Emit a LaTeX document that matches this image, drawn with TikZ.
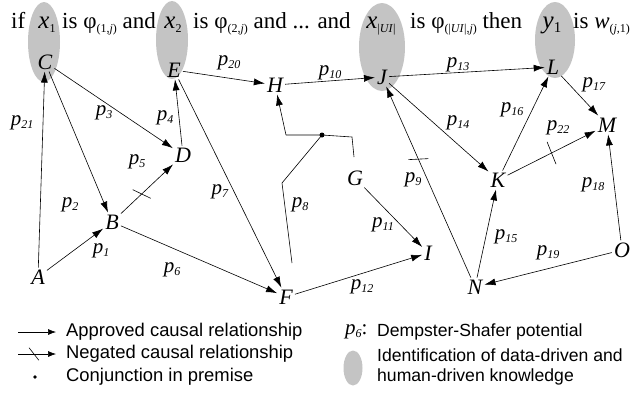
\documentclass[tikz,border=0pt]{standalone}
\usepackage{fontspec}
\setmainfont{Liberation Serif}
\newfontfamily\legfont{Liberation Sans}
\usetikzlibrary{arrows.meta,decorations.markings,calc,shapes.geometric}
\definecolor{knowgray}{RGB}{196,196,196}
\newcommand\sbs[2][12]{\raisebox{-4pt}{\fontsize{#1}{#1}\selectfont #2}}
\newcommand\pp[1]{\textit{p}\raisebox{-3pt}{\fontsize{12}{12}\selectfont\textit{#1}}}
\tikzset{
  ln/.style={line width=0.6pt},
  ar/.style={ln,-{Latex[length=11pt,width=7pt]}},
  sar/.style={ln,-{Latex[length=8pt,width=6pt]}},
  negbar/.style n args={3}{postaction={decorate,decoration={markings,
      mark=at position #1 with {\draw[ln,-] (#2:#3) -- (#2:-#3);}}}},
  lt/.style={font=\fontsize{22}{24}\selectfont\itshape, inner sep=2pt},
  pl/.style={font=\fontsize{21}{22}\selectfont, inner sep=0pt},
  tt/.style={font=\fontsize{23}{26}\selectfont, inner sep=0pt},
  tx/.style={font=\fontsize{25}{26}\selectfont, inner sep=0pt},
  kn/.style={ellipse, fill=knowgray, draw=none, inner sep=0pt},
  lg/.style={font=\legfont\fontsize{18.4}{20}\selectfont, inner sep=0pt, anchor=west},
  lgr/.style={font=\legfont\fontsize{17.6}{20}\selectfont, inner sep=0pt, anchor=west},
}
\begin{document}
\begin{tikzpicture}[x=1pt,y=-1pt]
\useasboundingbox (0,0) rectangle (634,392);
% knowledge ellipses
\node[kn, minimum width=32pt, minimum height=80pt] (eC) at (44,42) {};
\node[kn, minimum width=32pt, minimum height=78pt] (eE) at (172,40) {};
\node[kn, minimum width=46pt, minimum height=88pt] (eJ) at (382,47) {};
\node[kn, minimum width=40pt, minimum height=76pt] (eL) at (555,40) {};
% rule text
\node[tt, anchor=base west] (t1) at (11,28) {if};
\node[tx, anchor=base] (t2) at (47,28) {\textit{x}\sbs{1}};
\node[tt, anchor=base west] (t3) at (62,28) {is φ\sbs{(1,\textit{j})} and};
\node[tx, anchor=base] (t4) at (173,28) {\textit{x}\sbs{2}};
\node[tt, anchor=base west] (t5) at (193,28) {is φ\sbs{(2,\textit{j})} and ... and};
\node[tx, anchor=base] (t6) at (381,28) {\textit{x}\sbs{|\textit{UI}|}};
\node[tt, anchor=base west] (t7) at (410,28) {is φ\sbs{(|\textit{UI}|,\textit{j})} then};
\node[tx, anchor=base] (t8) at (552,28) {\textit{y}\sbs[15]{1}};
\node[tt, anchor=base west] (t9) at (573,28) {is \textit{w}\sbs{(\textit{j},1)}};
% letters
\node[lt] (A) at (38,277) {A};
\node[lt] (B) at (112,222) {B};
\node[lt] (C) at (45,62) {C};
\node[lt] (D) at (183,155) {D};
\node[lt] (E) at (174,70) {E};
\node[lt] (F) at (286,297) {F};
\node[lt] (G) at (355,178) {G};
\node[lt] (H) at (275,85) {H};
\node[lt] (I) at (428,253) {I};
\node[lt] (J) at (382,77) {J};
\node[lt] (K) at (498,180) {K};
\node[lt] (L) at (553,67) {L};
\node[lt] (M) at (607,125) {M};
\node[lt] (N) at (475,287) {N};
\node[lt] (O) at (622,250) {O};
% edges
\draw[ar] (A) -- (B);
\draw[ar] (C) -- (B);
\draw[ar] (C) -- (D);
\draw[ar] (D) -- (E);
\draw[ar, negbar={0.4}{-69}{10pt}] (B) -- (D);
\draw[ar] (B) -- (F);
\draw[ar] (E) -- (F);
\draw[ar, negbar={0.62}{-111}{10pt}] (N) -- (J);
\draw[ar] (H) -- (J);
\draw[ar] (G) -- (I);
\draw[ar] (F) -- (I);
\draw[ar] (J) -- (L);
\draw[ar] (J) -- (K);
\draw[ar] (N) -- (K);
\draw[ar] (K) -- (L);
\draw[ar] (L) -- (M);
\draw[ar] (O) -- (M);
\draw[ar] (O) -- (N);
\draw[ar] (E) -- (H);
\draw[ar] (A) -- (C);
\draw[ar, negbar={0.5}{-95}{12pt}] (K) -- (M);
% conjunction
\coordinate (f8a) at ($(F)+(6,-34)$);
\coordinate (f8b) at (282,183);
\coordinate (conj) at (322,135);
\coordinate (g8b) at (352,137);
\coordinate (g8a) at ($(G)+(-1,-21)$);
\coordinate (h8b) at (286,135);
\draw[ln] (f8a) -- (f8b) -- (conj);
\draw[ln] (g8a) -- (g8b) -- (conj) -- (h8b);
\draw[ar] (h8b) -- (H);
\fill (conj) circle (2.5pt);
% labels
\node[pl] (l1) at (101,251) {\pp{1}};
\node[pl] (l2) at (70,205) {\pp{2}};
\node[pl] (l3) at (104,113) {\pp{3}};
\node[pl] (l4) at (165,118) {\pp{4}};
\node[pl] (l5) at (137,162) {\pp{5}};
\node[pl] (l6) at (172,270) {\pp{6}};
\node[pl] (l7) at (220,192) {\pp{7}};
\node[pl] (l8) at (300,205) {\pp{8}};
\node[pl] (l9) at (413,180) {\pp{9}};
\node[pl] (l10) at (330,73) {\pp{10}};
\node[pl] (l11) at (383,225) {\pp{11}};
\node[pl] (l12) at (362,287) {\pp{12}};
\node[pl] (l13) at (458,65) {\pp{13}};
\node[pl] (l14) at (458,123) {\pp{14}};
\node[pl] (l15) at (506,237) {\pp{15}};
\node[pl] (l16) at (512,110) {\pp{16}};
\node[pl] (l17) at (594,85) {\pp{17}};
\node[pl] (l18) at (593,185) {\pp{18}};
\node[pl] (l19) at (548,253) {\pp{19}};
\node[pl] (l20) at (229,63) {\pp{20}};
\node[pl] (l21) at (22,123) {\pp{21}};
\node[pl] (l22) at (558,128) {\pp{22}};
% legend
\coordinate (lg1a) at (18,332);
\coordinate (lg1b) at (56,332);
\draw[sar] (lg1a) -- (lg1b);
\node[lg] (lgt1) at (66,332) {Approved causal relationship};
\coordinate (lg2a) at (18,354);
\coordinate (lg2b) at (56,354);
\draw[sar, negbar={0.42}{-52}{8pt}] (lg2a) -- (lg2b);
\node[lg] (lgt2) at (66,354) {Negated causal relationship};
\coordinate (lg3) at (35,377);
\fill (lg3) circle (1.8pt);
\node[lg] (lgt3) at (66,377) {Conjunction in premise};
\node[pl, anchor=west] (lgp) at (345,332) {\pp{6}:};
\node[lgr] (lgt4) at (377,332) {Dempster-Shafer potential};
\node[kn, minimum width=19pt, minimum height=35pt] (lge) at (353,368) {};
\node[lgr] (lgt5) at (377,355) {Identification of data-driven and};
\node[lgr] (lgt6) at (377,377) {human-driven knowledge};
\end{tikzpicture}
\end{document}
